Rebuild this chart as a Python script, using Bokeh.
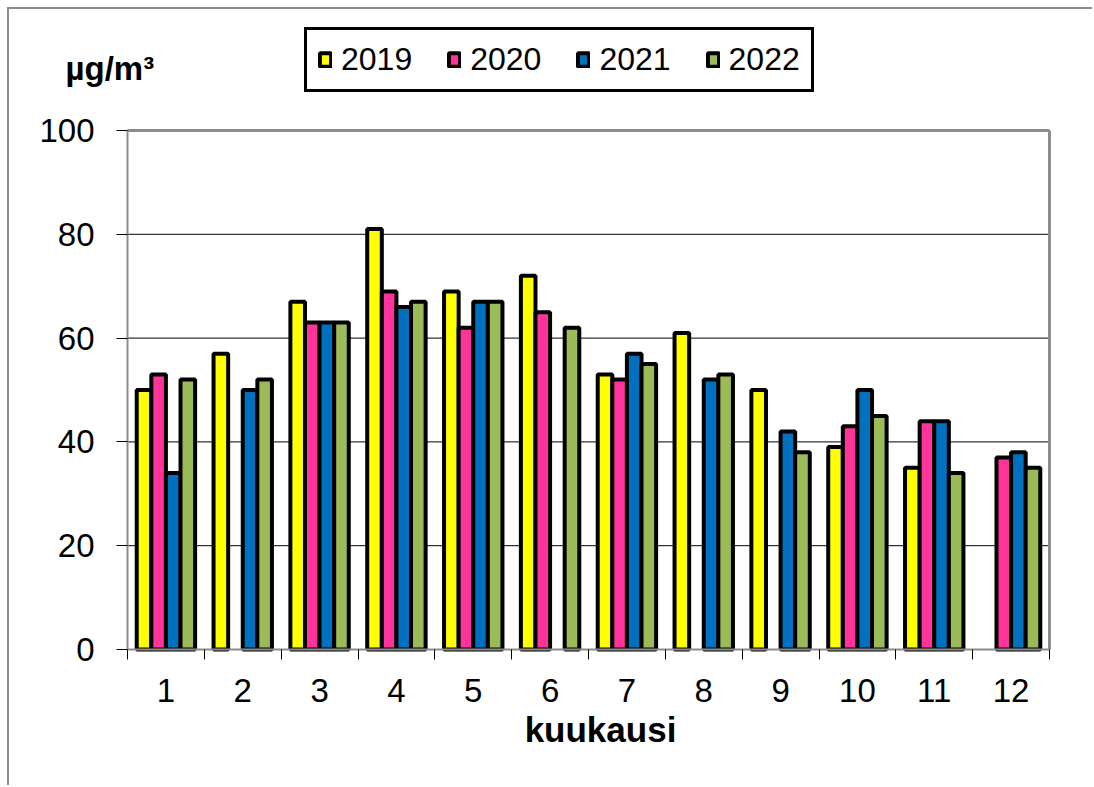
import numpy as np
from bokeh.plotting import figure
from bokeh.models import (ColumnDataSource, Range1d, FixedTicker, Legend, LegendItem, Label)
from bokeh.transform import dodge
from bokeh.embed import file_html
from bokeh.resources import INLINE

nan = float("nan")
months = [1, 2, 3, 4, 5, 6, 7, 8, 9, 10, 11, 12]
month_labels = ["1", "2", "3", "4", "5", "6", "7", "8", "9", "10", "11", "12"]
years = ["2019", "2020", "2021", "2022"]
v2019 = [50, 57, 67, 81, 69, 72, 53, 61, 50, 39, 35, nan]
v2020 = [53, nan, 63, 69, 62, 65, 52, nan, nan, 43, 44, 37]
v2021 = [34, 50, 63, 66, 67, nan, 57, 52, 42, 50, 44, 38]
v2022 = [52, 52, 63, 67, 67, 62, 55, 53, 38, 45, 34, 35]
y_ticks = [0, 20, 40, 60, 80, 100]
grid_ticks = [20, 40, 60, 80]
x_title = "kuukausi"
y_unit = "µg/m³"

colors = ["#FFFF00", "#FF3399", "#0070C0", "#9BBB59"]
offsets = [-0.285, -0.095, 0.095, 0.285]
FONT = "Liberation Sans"

# layout (screen pixels); the figure is placed at (9, 9) by CSS margin + border
FIG_W, FIG_H = 1085, 778
FRAME_L, FRAME_T, FRAME_R, FRAME_B = 9, 9, 1094, 787
PLOT_L, PLOT_T, PLOT_R, PLOT_B = 127, 130, 1049, 649
X0, X1 = 0.5, 12.5
Y0, Y1 = 0.0, 100.0
px_x = (PLOT_R - PLOT_L) / (X1 - X0)
px_y = (PLOT_B - PLOT_T) / (Y1 - Y0)
x_start = X0 - (PLOT_L - FRAME_L) / px_x
x_end = X1 + (FRAME_R - PLOT_R) / px_x
y_start = Y0 - (FRAME_B - PLOT_B) / px_y
y_end = Y1 + (PLOT_T - FRAME_T) / px_y

src = ColumnDataSource(data=dict(
    month=np.array(months, dtype=float),
    y2019=np.array(v2019, dtype=float),
    y2020=np.array(v2020, dtype=float),
    y2021=np.array(v2021, dtype=float),
    y2022=np.array(v2022, dtype=float),
))

p = figure(width=FIG_W, height=FIG_H, output_backend="svg", toolbar_location=None,
           x_range=Range1d(x_start, x_end), y_range=Range1d(y_start, y_end),
           min_border_left=0, min_border_top=0, min_border_right=0,
           min_border_bottom=0)
p.styles = {"margin-left": "7px", "margin-top": "7px",
            "border-left": "2px solid #8c8c8c", "border-top": "2px solid #8c8c8c"}
p.background_fill_color = "white"
p.border_fill_color = "white"
p.outline_line_color = None
p.xgrid.grid_line_color = None
p.ygrid.grid_line_color = None

# horizontal grid lines over the plot area
p.segment(x0=X0, x1=X1, y0=grid_ticks, y1=grid_ticks, line_color="black", line_width=1)

renderers = []
for yr, col, off in zip(years, colors, offsets):
    r = p.vbar(x=dodge("month", off, range=p.x_range), top="y" + yr, bottom=0,
               width=0.19, source=src, fill_color=col, line_color="black",
               line_width=4)
    renderers.append(r)

# plot-area border (top and right)
p.segment(x0=[X0, X1], x1=[X1, X1], y0=[Y1, Y0], y1=[Y1, Y1],
          line_color="#8c8c8c", line_width=3)

# y axis
ya = p.yaxis[0]
ya.fixed_location = X0
ya.bounds = (Y0, Y1)
ya.ticker = FixedTicker(ticks=y_ticks)
ya.major_tick_out = 11
ya.major_tick_in = 0
ya.minor_tick_out = 0
ya.minor_tick_in = 0
ya.major_tick_line_color = "#000000"
ya.axis_line_color = "#8c8c8c"
ya.axis_line_width = 2
ya.major_label_standoff = 22
ya.major_label_text_font = FONT
ya.major_label_text_font_size = "33px"
ya.major_label_text_color = "black"

# x axis
xa = p.xaxis[0]
xa.fixed_location = Y0
xa.bounds = (X0, X1)
xa.ticker = FixedTicker(ticks=months, minor_ticks=[m - 0.5 for m in months] + [12.5])
xa.major_label_overrides = {m: lab for m, lab in zip(months, month_labels)}
xa.major_tick_out = 0
xa.major_tick_in = 0
xa.minor_tick_out = 10
xa.minor_tick_in = 0
xa.minor_tick_line_color = "#000000"
xa.axis_line_color = "#8c8c8c"
xa.axis_line_width = 2
xa.major_label_standoff = 19
xa.major_label_text_font = FONT
xa.major_label_text_font_size = "33px"
xa.major_label_text_color = "black"

# axis title and unit label (screen units relative to the frame's bottom-left)
xt = Label(x=600 - FRAME_L, y=FRAME_B - 729, x_units="screen", y_units="screen",
           text=x_title, text_font=FONT, text_font_size="35px",
           text_font_style="bold", text_color="black", text_align="center",
           text_baseline="alphabetic")
p.add_layout(xt)

unit = Label(x=65 - FRAME_L, y=FRAME_B - 68, x_units="screen", y_units="screen",
             text=y_unit, text_font=FONT, text_font_size="33px",
             text_font_style="bold", text_color="black", text_baseline="alphabetic")
p.add_layout(unit)

legend = Legend(items=[LegendItem(label=yr, renderers=[r]) for yr, r in zip(years, renderers)],
                orientation="horizontal", location=(304 - FRAME_L, FRAME_B - 92),
                label_text_font=FONT, label_text_font_size="32px",
                label_text_color="black",
                glyph_width=14, glyph_height=17, label_standoff=9,
                spacing=35, padding=11, margin=0,
                border_line_color="black", border_line_width=3, border_line_alpha=1,
                background_fill_color="white", background_fill_alpha=1)
p.add_layout(legend)

open("out.html", "w").write(file_html(p, INLINE))
